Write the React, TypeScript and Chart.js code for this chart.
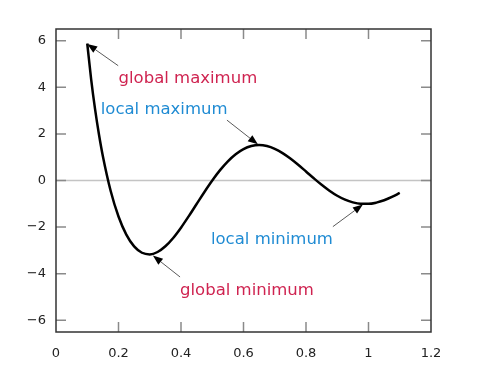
import React, { useEffect, useRef } from "react";
import { Chart, registerables } from "chart.js";

Chart.register(...registerables);

// Curve samples (x, y)
const xValues = [
  0.1, 0.1125, 0.125, 0.1375, 0.15, 0.175, 0.2, 0.225, 0.25, 0.275, 0.3, 0.325,
  0.35, 0.375, 0.4, 0.425, 0.45, 0.475, 0.5, 0.525, 0.55, 0.575, 0.6, 0.625,
  0.65, 0.675, 0.7, 0.725, 0.75, 0.775, 0.8, 0.825, 0.85, 0.875, 0.9, 0.925,
  0.95, 0.975, 1.0, 1.025, 1.05, 1.075, 1.1,
];
const yValues = [
  5.878, 4.343, 3.061, 1.974, 1.043, -0.448, -1.545, -2.322, -2.828, -3.1,
  -3.17, -3.067, -2.822, -2.464, -2.023, -1.528, -1.009, -0.491, 0.0, 0.445,
  0.825, 1.129, 1.348, 1.478, 1.52, 1.477, 1.359, 1.176, 0.943, 0.674, 0.386,
  0.095, -0.184, -0.437, -0.653, -0.822, -0.938, -0.997, -1.0, -0.949, -0.849,
  -0.707, -0.534,
];

const xTicks = [0, 0.2, 0.4, 0.6, 0.8, 1.0, 1.2];
const xTickLabels = ["0", "0.2", "0.4", "0.6", "0.8", "1", "1.2"];
const yTicks = [-6, -4, -2, 0, 2, 4, 6];
const yTickLabels = ["\u22126", "\u22124", "\u22122", "0", "2", "4", "6"];

// Annotations (data coordinates)
const annotationTexts = ["global maximum", "local maximum", "local minimum", "global minimum"];
const annotationKinds = ["global", "local", "local", "global"];
const annotationTextAt = [
  [0.422, 4.17],
  [0.346, 2.845],
  [0.691, -2.716],
  [0.611, -4.914],
];
const annotationArrowFrom = [
  [0.199, 4.925],
  [0.547, 2.59],
  [0.886, -1.98],
  [0.397, -4.14],
];
const annotationArrowTo = [
  [0.1, 5.86],
  [0.646, 1.55],
  [0.982, -1.03],
  [0.31, -3.22],
];

const COLORS: Record<string, string> = { global: "#cf2350", local: "#1f8bd3" };

const decorPlugin = {
  id: "decor",
  beforeDatasetsDraw(chart: any) {
    const { ctx, chartArea, scales } = chart;
    const y0 = scales.y.getPixelForValue(0);
    ctx.save();
    ctx.strokeStyle = "#c4c4c4";
    ctx.lineWidth = 1.5;
    ctx.beginPath();
    ctx.moveTo(chartArea.left, y0);
    ctx.lineTo(chartArea.right, y0);
    ctx.stroke();
    ctx.restore();
  },
  afterDatasetsDraw(chart: any) {
    const { ctx, chartArea, scales } = chart;
    const { left, right, top, bottom } = chartArea;
    ctx.save();
    // inward ticks
    ctx.strokeStyle = "#8a8a8a";
    ctx.lineWidth = 1.5;
    const tl = 10;
    ctx.beginPath();
    xTicks.forEach((v) => {
      const px = scales.x.getPixelForValue(v);
      if (v === xTicks[0] || v === xTicks[xTicks.length - 1]) return;
      ctx.moveTo(px, bottom);
      ctx.lineTo(px, bottom - tl);
      ctx.moveTo(px, top);
      ctx.lineTo(px, top + tl);
    });
    yTicks.forEach((v) => {
      const py = scales.y.getPixelForValue(v);
      ctx.moveTo(left, py);
      ctx.lineTo(left + tl, py);
      ctx.moveTo(right, py);
      ctx.lineTo(right - tl, py);
    });
    ctx.stroke();
    // frame
    ctx.strokeStyle = "#333333";
    ctx.lineWidth = 1.5;
    ctx.strokeRect(left, top, right - left, bottom - top);

    // annotations
    annotationTexts.forEach((t, i) => {
      const fx = scales.x.getPixelForValue(annotationArrowFrom[i][0]);
      const fy = scales.y.getPixelForValue(annotationArrowFrom[i][1]);
      const tx = scales.x.getPixelForValue(annotationArrowTo[i][0]);
      const ty = scales.y.getPixelForValue(annotationArrowTo[i][1]);
      const ang = Math.atan2(ty - fy, tx - fx);
      const hl = 10;
      const hw = 3.8;
      const bx = tx - hl * Math.cos(ang);
      const by = ty - hl * Math.sin(ang);
      ctx.strokeStyle = "#5a5a5a";
      ctx.lineWidth = 1;
      ctx.beginPath();
      ctx.moveTo(fx, fy);
      ctx.lineTo(bx, by);
      ctx.stroke();
      ctx.fillStyle = "#000";
      ctx.beginPath();
      ctx.moveTo(tx, ty);
      ctx.lineTo(bx + hw * Math.sin(ang), by - hw * Math.cos(ang));
      ctx.lineTo(bx - hw * Math.sin(ang), by + hw * Math.cos(ang));
      ctx.closePath();
      ctx.fill();

      const lx = scales.x.getPixelForValue(annotationTextAt[i][0]);
      const ly = scales.y.getPixelForValue(annotationTextAt[i][1]);
      ctx.font = '16.5px "DejaVu Sans"';
      ctx.fillStyle = COLORS[annotationKinds[i]];
      ctx.textAlign = "center";
      ctx.textBaseline = "alphabetic";
      ctx.fillText(t, lx, ly);
    });
    ctx.restore();
  },
};

export default function App() {
  const ref = useRef<HTMLCanvasElement>(null);
  useEffect(() => {
    if (!ref.current) return;
    const points = xValues.map((x, i) => ({ x, y: yValues[i] }));
    const chart = new Chart(ref.current, {
      type: "line",
      data: {
        datasets: [
          {
            data: points,
            borderColor: "#000",
            borderWidth: 2.5,
            pointRadius: 0,
            fill: false,
            cubicInterpolationMode: "monotone",
          },
        ],
      },
      options: {
        animation: false,
        responsive: false,
        layout: { padding: { top: 29, right: 56, left: 0, bottom: 0 } },
        plugins: { legend: { display: false }, tooltip: { enabled: false } },
        scales: {
          x: {
            type: "linear",
            min: 0,
            max: 1.2,
            afterBuildTicks: (s: any) => {
              s.ticks = xTicks.map((v) => ({ value: v }));
            },
            afterFit: (s: any) => {
              s.height = 45;
            },
            grid: { display: false, drawTicks: false },
            border: { display: false },
            ticks: {
              padding: 14,
              color: "#222",
              font: { family: "DejaVu Sans", size: 13 },
              maxRotation: 0,
              callback: (v: any) => {
                const i = xTicks.findIndex((t) => Math.abs(t - v) < 1e-9);
                return i >= 0 ? xTickLabels[i] : "";
              },
            },
          },
          y: {
            type: "linear",
            min: -6.5,
            max: 6.5,
            afterBuildTicks: (s: any) => {
              s.ticks = yTicks.map((v) => ({ value: v }));
            },
            afterFit: (s: any) => {
              s.width = 56;
            },
            grid: { display: false, drawTicks: false },
            border: { display: false },
            ticks: {
              padding: 10,
              color: "#222",
              font: { family: "DejaVu Sans", size: 13 },
              callback: (v: any) => {
                const i = yTicks.findIndex((t) => Math.abs(t - v) < 1e-9);
                return i >= 0 ? yTickLabels[i] : "";
              },
            },
          },
        },
      },
      plugins: [decorPlugin],
    } as any);
    return () => chart.destroy();
  }, []);
  return (
    <div style={{ position: "absolute", left: 0, top: 0, width: 487, height: 377, background: "#fff" }}>
      <canvas ref={ref} width={487} height={377} style={{ width: 487, height: 377 }} />
    </div>
  );
}
